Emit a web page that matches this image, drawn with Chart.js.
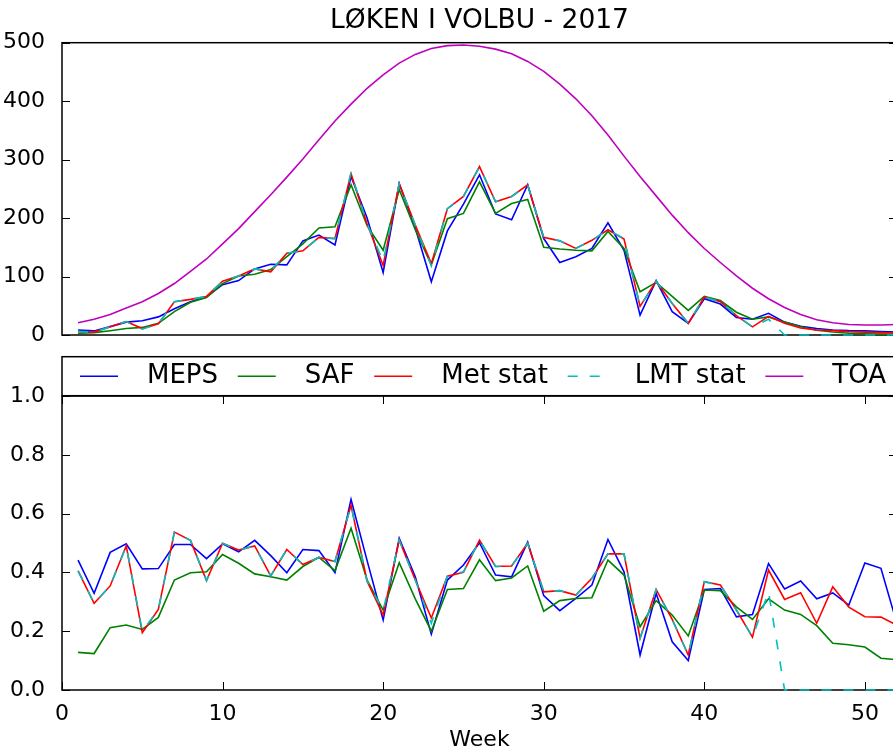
<!DOCTYPE html>
<html>
<head>
<meta charset="utf-8">
<title>LØKEN I VOLBU - 2017</title>
<script src="https://cdn.jsdelivr.net/npm/chart.js@4.4.1/dist/chart.umd.min.js"></script>
<style>
  html, body { margin: 0; padding: 0; background: #fff; overflow: hidden; }
  #wrap { position: relative; width: 893px; height: 753px; overflow: hidden; }
  canvas { position: absolute; left: 0; }
  #topChart { top: 0; }
  #bottomChart { top: 340px; }
</style>
</head>
<body>
<div id="wrap">
  <canvas id="topChart" width="900" height="400"></canvas>
  <canvas id="bottomChart" width="900" height="413"></canvas>
</div>
<script>
/* global Chart */
Chart.defaults.font.family = '"DejaVu Sans", sans-serif'
Chart.defaults.color = '#000'

const title = 'LØKEN I VOLBU - 2017'
const weeks = [1, 2, 3, 4, 5, 6, 7, 8, 9, 10, 11, 12, 13, 14, 15, 16, 17, 18, 19, 20, 21, 22, 23, 24, 25, 26,
  27, 28, 29, 30, 31, 32, 33, 34, 35, 36, 37, 38, 39, 40, 41, 42, 43, 44, 45, 46, 47, 48, 49, 50, 51, 52]
const labels = ['MEPS', 'SAF', 'Met stat', 'LMT stat', 'TOA']

// weekly mean radiation (top panel)
const mepsRad = [8.6, 7, 14.3, 22, 24.5, 31, 45, 57, 65.5, 86, 93, 113, 121, 120, 161, 171, 154, 271, 200, 107,
  259, 183, 91, 178, 224, 274, 207, 197, 257, 165, 124, 134, 148, 192, 145, 34, 93, 40, 20, 62,
  53, 30, 27, 37, 22, 15, 11, 8.6, 7.4, 7, 6, 5]
const safRad = [3, 4, 7.4, 11, 13, 20, 40, 56, 64, 88, 101, 104, 112, 134, 156, 183, 185, 257, 187, 145,
  249, 180, 120, 199, 208, 262, 208, 225, 232, 150, 147, 145, 144, 177, 148, 74, 90, 66, 42, 66,
  59, 39, 27, 31, 22, 14, 8, 5, 3, 2, 1.5, 1]
const metRad = [6, 5, 14, 23, 11, 19, 57, 61, 66, 92, 101, 113, 108, 140, 144, 167, 165, 276, 190, 119,
  259, 188, 122, 216, 237, 288, 228, 237, 257, 167, 161, 148, 162, 180, 164, 49, 92, 54, 20, 65,
  57, 33, 14, 32, 20, 12, 8.6, 7.4, 5.8, 5, 4, 3]
const lmtRad = [6, 5, 14, 23, 10, 19, 57, 61, 66, 92, 101, 113, 110, 140, 144, 167, 165, 278, 190, 126,
  259, 188, 118, 216, 237, 288, 228, 237, 257, 167, 161, 148, 162, 180, 165, 49, 92, 54, 20, 65,
  57, 33, 14, 27, 0, 0, 0, 0, 0, 0, 0, 0]
const toaRad = [21, 27, 35, 46, 57, 71, 88, 109, 130, 156, 182, 211, 240, 270, 301, 334, 366, 395, 422, 445,
  465, 480, 490, 495, 496, 494, 489, 481, 468, 451, 429, 404, 375, 342, 306, 271, 238, 205, 175, 148,
  124, 101, 80, 62, 47, 35, 26, 21, 18, 17, 17, 18]

// ratios (bottom panel)
const mepsRatio = [0.442, 0.329, 0.468, 0.497, 0.412, 0.413, 0.495, 0.495, 0.447, 0.497, 0.47, 0.509, 0.457,
  0.399, 0.478, 0.474, 0.399, 0.648, 0.44, 0.238, 0.516, 0.385, 0.19, 0.374, 0.425, 0.501, 0.391,
  0.385, 0.503, 0.321, 0.27, 0.312, 0.357, 0.512, 0.402, 0.119, 0.329, 0.164, 0.1, 0.342, 0.345,
  0.249, 0.257, 0.43, 0.344, 0.371, 0.31, 0.33, 0.289, 0.432, 0.414, 0.225]
const safRatio = [0.128, 0.124, 0.212, 0.221, 0.206, 0.247, 0.374, 0.399, 0.402, 0.461, 0.431, 0.395, 0.385,
  0.374, 0.42, 0.451, 0.406, 0.55, 0.374, 0.272, 0.433, 0.31, 0.2, 0.342, 0.345, 0.443, 0.372,
  0.381, 0.422, 0.268, 0.304, 0.311, 0.314, 0.442, 0.391, 0.215, 0.304, 0.255, 0.184, 0.34, 0.338,
  0.283, 0.24, 0.31, 0.272, 0.257, 0.219, 0.159, 0.154, 0.146, 0.108, 0.103]
const metRatio = [0.405, 0.295, 0.354, 0.49, 0.195, 0.274, 0.537, 0.509, 0.372, 0.499, 0.476, 0.49, 0.388,
  0.478, 0.427, 0.451, 0.437, 0.628, 0.37, 0.255, 0.51, 0.374, 0.245, 0.387, 0.4, 0.51, 0.42,
  0.422, 0.499, 0.334, 0.338, 0.323, 0.38, 0.463, 0.463, 0.176, 0.342, 0.24, 0.119, 0.368, 0.357,
  0.272, 0.18, 0.408, 0.308, 0.331, 0.227, 0.351, 0.282, 0.249, 0.248, 0.22]
const lmtRatio = [0.405, 0.295, 0.354, 0.49, 0.2, 0.274, 0.537, 0.509, 0.372, 0.499, 0.476, 0.49, 0.388,
  0.478, 0.427, 0.451, 0.437, 0.628, 0.37, 0.27, 0.51, 0.374, 0.227, 0.387, 0.402, 0.51, 0.42,
  0.422, 0.499, 0.334, 0.338, 0.323, 0.38, 0.463, 0.463, 0.176, 0.342, 0.24, 0.119, 0.368, 0.357,
  0.272, 0.18, 0.334, 0, 0, 0, 0, 0, 0, 0, 0]

const colors = ['#0000ff', '#008000', '#ff0000', '#00bfbf', '#bf00bf']
const dashes = [[], [], [], [10, 12], []]

function line (i, data) {
  return {
    label: labels[i],
    data,
    borderColor: colors[i],
    backgroundColor: colors[i],
    borderWidth: 1.6,
    borderDash: dashes[i],
    pointRadius: 0,
    tension: 0,
    fill: false,
    clip: 3,
    order: labels.length - i // last one on top, like matplotlib
  }
}

// frame + inward ticks
const frameTicks = {
  id: 'frameTicks',
  beforeDatasetsDraw (chart, args, opts) {
    const { ctx, chartArea: a, scales } = chart
    ctx.save()
    ctx.strokeStyle = '#000'
    ctx.lineWidth = 1
    ctx.beginPath()
    scales.y.ticks.forEach(t => {
      const y = Math.round(scales.y.getPixelForValue(t.value)) + 0.5
      ctx.moveTo(a.left, y)
      ctx.lineTo(a.left + 8, y)
      ctx.moveTo(a.right, y)
      ctx.lineTo(a.right - 8, y)
    })
    if (opts.xTicks) {
      scales.x.ticks.forEach(t => {
        const x = Math.round(scales.x.getPixelForValue(t.value)) + 0.5
        ctx.moveTo(x, a.top)
        ctx.lineTo(x, a.top + 8)
        ctx.moveTo(x, a.bottom)
        ctx.lineTo(x, a.bottom - 8)
      })
    }
    ctx.stroke()
    ctx.lineWidth = 1.5
    ctx.strokeRect(a.left, a.top, a.right - a.left, a.bottom - a.top)
    ctx.restore()
  }
}

// legend box between the two panels (matplotlib "expand" style)
const legendBox = {
  id: 'legendBox',
  afterDraw (chart, args, opts) {
    const { ctx, chartArea: a } = chart
    const ds = chart.data.datasets
    ctx.save()
    ctx.font = '26px "DejaVu Sans", sans-serif'
    const widths = ds.map(d => ctx.measureText(d.label).width)
    const handle = 38
    const gapText = 29
    const used = widths.reduce((s, w) => s + handle + gapText + w, 0)
    const gap = (a.right - a.left - 18 - 11 - used) / (ds.length - 1)
    const yMid = (opts.top + opts.bottom) / 2
    let x = a.left + 18
    ds.forEach((d, i) => {
      ctx.strokeStyle = d.borderColor
      ctx.lineWidth = d.borderWidth
      ctx.setLineDash(d.borderDash || [])
      ctx.beginPath()
      ctx.moveTo(x, yMid)
      ctx.lineTo(x + handle, yMid)
      ctx.stroke()
      ctx.fillStyle = '#000'
      ctx.textBaseline = 'middle'
      ctx.textAlign = 'left'
      ctx.fillText(d.label, x + handle + gapText, yMid)
      x += handle + gapText + widths[i] + gap
    })
    ctx.setLineDash([])
    ctx.strokeStyle = '#000'
    ctx.lineWidth = 1.5
    ctx.strokeRect(a.left, opts.top, a.right - a.left, opts.bottom - opts.top)
    ctx.restore()
  }
}

const topChart = new Chart(document.getElementById('topChart'), {
  type: 'line',
  data: {
    labels: weeks,
    datasets: [line(0, mepsRad), line(1, safRad), line(2, metRad), line(3, lmtRad), line(4, toaRad)]
  },
  options: {
    responsive: false,
    animation: false,
    layout: { padding: { top: 0, right: 3, bottom: 65, left: 0 } },
    scales: {
      x: { type: 'linear', min: 0, max: 52, display: false },
      y: {
        min: 0,
        max: 500,
        ticks: { stepSize: 100, padding: 9, font: { size: 22 } },
        grid: { display: false },
        border: { display: false },
        afterFit: s => { s.width = 62 }
      }
    },
    plugins: {
      legend: { display: false },
      tooltip: { enabled: false },
      title: {
        display: true,
        text: title,
        fullSize: false,
        color: '#000',
        font: { size: 26.5, weight: 'normal' },
        padding: { top: 5.5, bottom: 5.4 }
      },
      frameTicks: { xTicks: false },
      legendBox: { top: 356.7, bottom: 395.7 }
    }
  },
  plugins: [frameTicks, legendBox]
})

const bottomChart = new Chart(document.getElementById('bottomChart'), {
  type: 'line',
  data: {
    labels: weeks,
    datasets: [line(0, mepsRatio), line(1, safRatio), line(2, metRatio), line(3, lmtRatio)]
  },
  options: {
    responsive: false,
    animation: false,
    layout: { padding: { top: 56, right: 3, bottom: 0, left: 0 } },
    scales: {
      x: {
        type: 'linear',
        min: 0,
        max: 52,
        ticks: { stepSize: 10, includeBounds: false, padding: 3, font: { size: 22 } },
        grid: { display: false },
        border: { display: false },
        title: { display: true, text: 'Week', font: { size: 22 }, padding: { top: 6, bottom: 0 } },
        afterFit: s => { s.height = 63 }
      },
      y: {
        min: 0,
        max: 1,
        ticks: { stepSize: 0.2, padding: 9, font: { size: 22 }, callback: v => v.toFixed(1) },
        grid: { display: false },
        border: { display: false },
        afterFit: s => { s.width = 62 }
      }
    },
    plugins: {
      legend: { display: false },
      tooltip: { enabled: false },
      frameTicks: { xTicks: true }
    }
  },
  plugins: [frameTicks]
})
console.log(topChart.chartArea, bottomChart.chartArea)
</script>
</body>
</html>
